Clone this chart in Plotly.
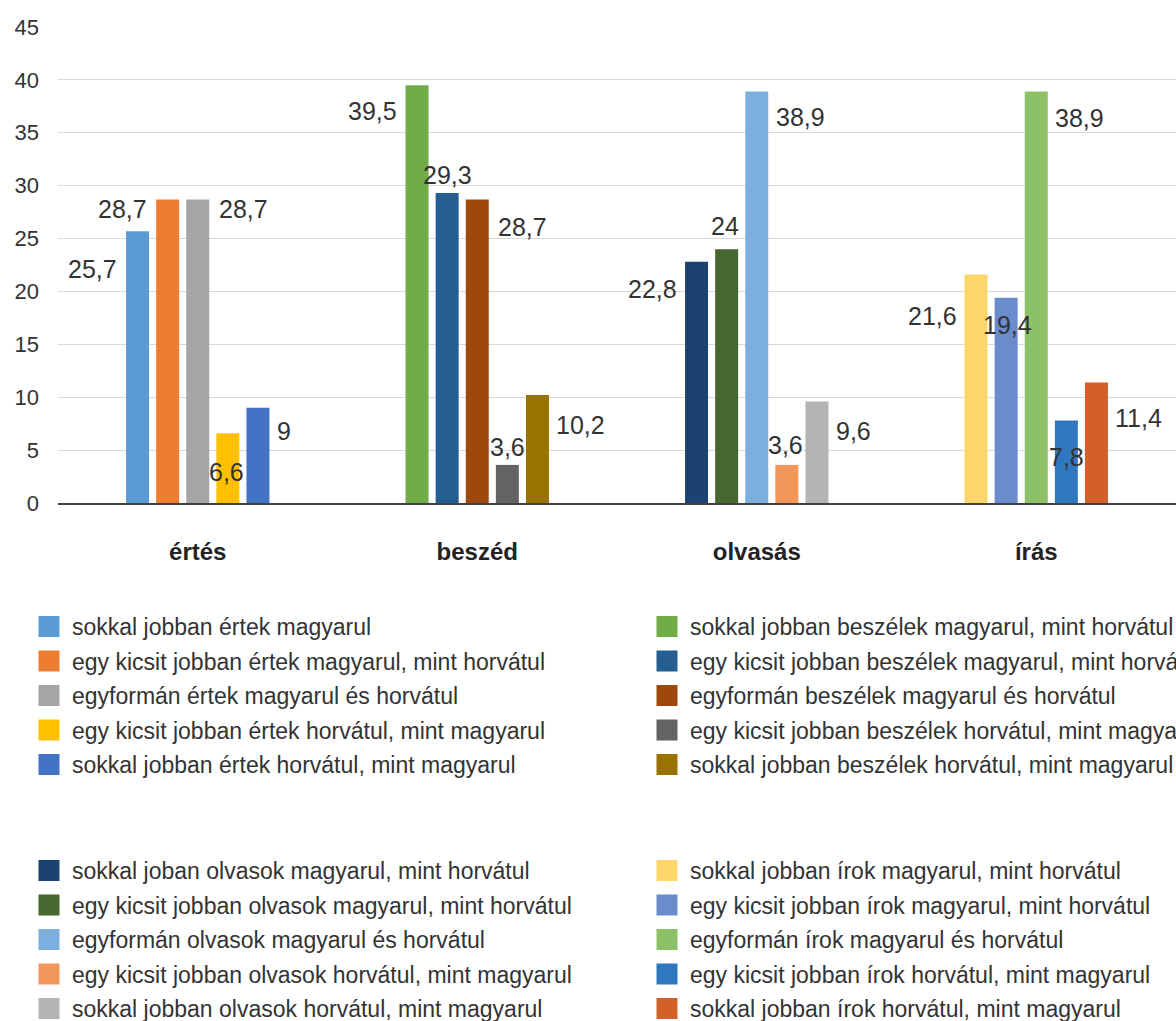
import plotly.graph_objects as go

# Skill areas (x-axis categories)
categories = ["értés", "beszéd", "olvasás", "írás"]

# Answers per skill, in bar order inside each group
names_ertes = [
    "sokkal jobban értek magyarul",
    "egy kicsit jobban értek magyarul, mint horvátul",
    "egyformán értek magyarul és horvátul",
    "egy kicsit jobban értek horvátul, mint magyarul",
    "sokkal jobban értek horvátul, mint magyarul",
]
names_beszed = [
    "sokkal jobban beszélek magyarul, mint horvátul",
    "egy kicsit jobban beszélek magyarul, mint horvátul",
    "egyformán beszélek magyarul és horvátul",
    "egy kicsit jobban beszélek horvátul, mint magyarul",
    "sokkal jobban beszélek horvátul, mint magyarul",
]
names_olvasas = [
    "sokkal joban olvasok magyarul, mint horvátul",
    "egy kicsit jobban olvasok magyarul, mint horvátul",
    "egyformán olvasok magyarul és horvátul",
    "egy kicsit jobban olvasok horvátul, mint magyarul",
    "sokkal jobban olvasok horvátul, mint magyarul",
]
names_iras = [
    "sokkal jobban írok magyarul, mint horvátul",
    "egy kicsit jobban írok magyarul, mint horvátul",
    "egyformán írok magyarul és horvátul",
    "egy kicsit jobban írok horvátul, mint magyarul",
    "sokkal jobban írok horvátul, mint magyarul",
]

# Percentages
values_ertes = [25.7, 28.7, 28.7, 6.6, 9]
values_beszed = [39.5, 29.3, 28.7, 3.6, 10.2]
values_olvasas = [22.8, 24, 38.9, 3.6, 9.6]
values_iras = [21.6, 19.4, 38.9, 7.8, 11.4]

y_ticks = [0, 5, 10, 15, 20, 25, 30, 35, 40, 45]

# ---- styling -------------------------------------------------------------
colors = [
    ["#5b9bd5", "#ed7d31", "#a5a5a5", "#ffc000", "#4472c4"],
    ["#70ad47", "#255e91", "#9e480e", "#636363", "#997300"],
    ["#1c4272", "#46672f", "#7cafdd", "#f1975a", "#b4b4b4"],
    ["#fed76a", "#6b8ccb", "#8cc168", "#2f78be", "#d26028"],
]
# label placement per bar: side ('l', 'r', 'c'), pixels below bar top, extra x shift
label_side = [
    ["l", "l", "r", "c", "r"],
    ["l", "c", "r", "c", "r"],
    ["l", "c", "r", "c", "r"],
    ["l", "c", "r", "c", "r"],
]
label_drop = [
    [38, 10, 10, 39, 23],
    [26, -18, 28, -18, 30],
    [27, -23, 25, -20, 30],
    [41, 27, 26, 37, 36],
]
label_gap = [
    [7, 7, 8, -1, 6],
    [7, 0, 7, 0, 5],
    [6, -2, 6, -1, 6],
    [6, 1, 5, 0, 5],
]
legend_ids = ["legend", "legend2", "legend3", "legend4"]

FONT = "Liberation Sans, Arial, sans-serif"
TEXT = "#333333"
BAR_W = 0.0823      # bar width in category units
STEP = 0.1077       # distance between neighbouring bars
PX_PER_UNIT = 279.5 # horizontal pixels per category unit
BAR_HALF_PX = BAR_W * PX_PER_UNIT / 2

all_names = [names_ertes, names_beszed, names_olvasas, names_iras]
all_values = [values_ertes, values_beszed, values_olvasas, values_iras]

fig = go.Figure()
annotations = []

for g, (names, vals) in enumerate(zip(all_names, all_values)):
    for i, (name, v) in enumerate(zip(names, vals)):
        c = colors[g][i]
        xpos = g + (i - 2) * STEP
        grp = f"{g}-{i}"
        fig.add_trace(go.Bar(
            x=[xpos], y=[v], width=BAR_W, name=name,
            marker=dict(color=c, line=dict(width=0)),
            legendgroup=grp, showlegend=False,
            hovertemplate=f"{categories[g]}<br>{name}: %{{y}}<extra></extra>",
        ))
        # legend entry with a larger square swatch
        fig.add_trace(go.Scatter(
            x=[None], y=[None], mode="markers", name=name,
            marker=dict(symbol="square", size=16, color=c,
                        line=dict(color=c, width=5)),
            legendgroup=grp, legend=legend_ids[g], hoverinfo="skip",
        ))

        side = label_side[g][i]
        gap = label_gap[g][i]
        if side == "l":
            xanchor, xshift = "right", -(BAR_HALF_PX + gap)
        elif side == "r":
            xanchor, xshift = "left", BAR_HALF_PX + gap
        else:
            xanchor, xshift = "center", gap
        annotations.append(dict(
            x=xpos, y=v, xref="x", yref="y",
            text=f"{v:g}".replace(".", ","),
            showarrow=False, xanchor=xanchor, yanchor="middle",
            xshift=xshift, yshift=-label_drop[g][i],
            font=dict(family=FONT, size=25, color=TEXT),
        ))

legend_common = dict(
    orientation="v", xref="container", yref="container",
    xanchor="left", yanchor="top", bgcolor="rgba(0,0,0,0)",
    font=dict(family=FONT, size=23, color=TEXT),
    tracegroupgap=1.6, itemwidth=36, itemclick="toggle",
)
W, H = 1176, 1021

fig.update_layout(
    width=W, height=H,
    margin=dict(l=58, r=0, t=27, b=518, autoexpand=False),
    paper_bgcolor="white", plot_bgcolor="white",
    barmode="overlay",
    showlegend=True,
    font=dict(family=FONT, color=TEXT),
    annotations=annotations,
    legend=dict(legend_common, x=26 / W, y=1 - 605 / H),
    legend2=dict(legend_common, x=644 / W, y=1 - 605 / H),
    legend3=dict(legend_common, x=26 / W, y=1 - 849 / H),
    legend4=dict(legend_common, x=644 / W, y=1 - 849 / H),
    xaxis=dict(
        range=[-0.5, 3.5], tickvals=list(range(len(categories))),
        ticktext=[f"<b>{c}</b>" for c in categories],
        tickfont=dict(family=FONT, size=24, color="#222222"),
        showgrid=False, zeroline=False,
        showline=True, linecolor="#404040", linewidth=1.6,
        ticks="", ticklabelstandoff=26, fixedrange=True,
    ),
    yaxis=dict(
        range=[0, 45], tickvals=y_ticks,
        tickfont=dict(family=FONT, size=22, color=TEXT),
        showgrid=True, gridcolor="#d9d9d9", gridwidth=1.3,
        zeroline=False, showline=False, ticks="",
        ticklabelstandoff=18, fixedrange=True,
    ),
)

fig.write_html("out.html")
